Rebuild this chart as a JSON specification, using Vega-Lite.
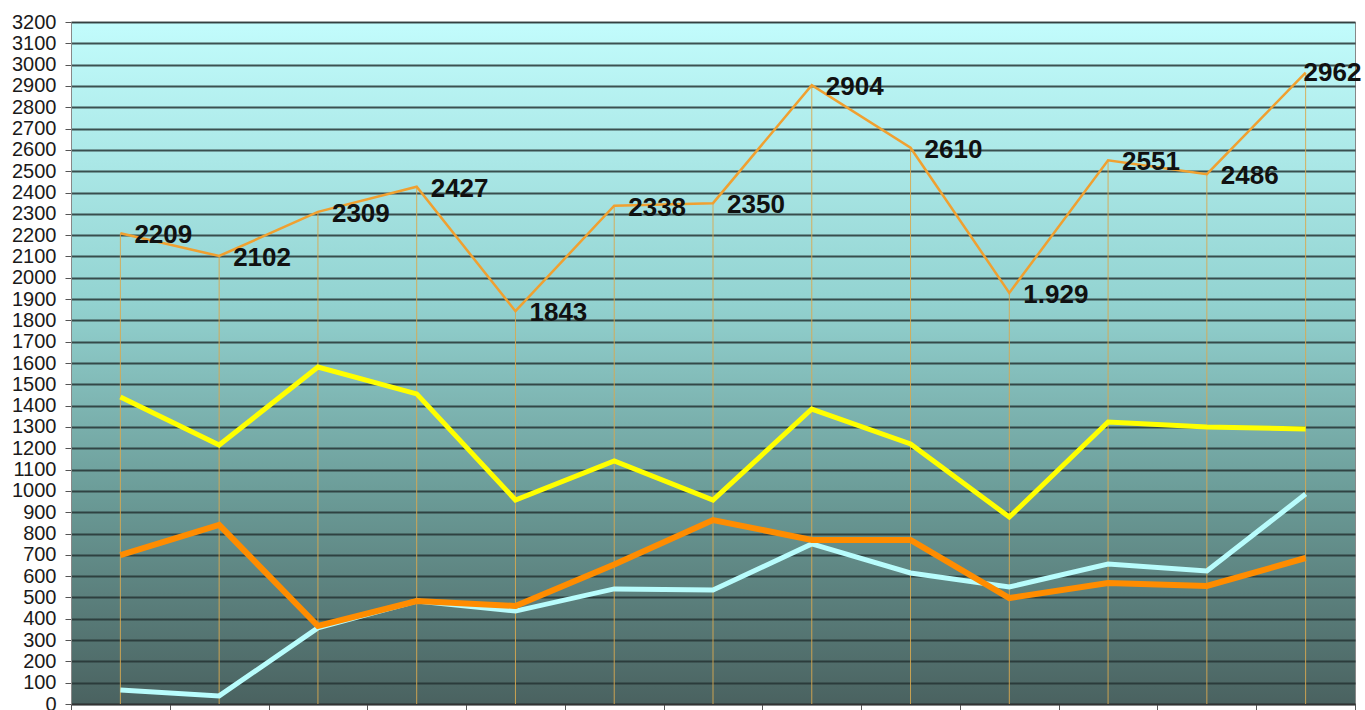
{
  "$schema": "https://vega.github.io/schema/vega-lite/v6.json",
  "width": 1284,
  "height": 682,
  "autosize": "none",
  "padding": {"left": 71, "top": 22, "right": 10, "bottom": 6},
  "background": "white",
  "config": {
    "view": {
      "stroke": "#888888",
      "strokeWidth": 1,
      "fill": {"gradient": "linear", "x1": 0, "y1": 0, "x2": 0, "y2": 1,
        "stops": [
          {"offset": 0, "color": "#c2fcfc"},
          {"offset": 0.4, "color": "#94d4d2"},
          {"offset": 0.7, "color": "#6a9a96"},
          {"offset": 1, "color": "#4a6260"}
        ]}
    },
    "axisY": {"tickCount": 40, "format": "d", "labelOverlap": false, "labelBound": false,
      "labelFontSize": 20, "labelColor": "#1a1a1a", "labelPadding": 9, "tickSize": 6, "tickColor": "#555555",
      "domainColor": "#888888", "grid": true, "gridColor": "#263434", "gridWidth": 1.8, "gridOpacity": 0.85,
      "labelFont": "Liberation Sans", "title": null},
    "font": "Liberation Sans"
  },
  "data": {
    "values": [
      {"p": 1, "total": 2209, "label": "2209", "yellow": 1440, "orange": 699, "cyan": 66},
      {"p": 2, "total": 2102, "label": "2102", "yellow": 1215, "orange": 840, "cyan": 38},
      {"p": 3, "total": 2309, "label": "2309", "yellow": 1581, "orange": 366, "cyan": 357},
      {"p": 4, "total": 2427, "label": "2427", "yellow": 1455, "orange": 483, "cyan": 483},
      {"p": 5, "total": 1843, "label": "1843", "yellow": 957, "orange": 460, "cyan": 436},
      {"p": 6, "total": 2338, "label": "2338", "yellow": 1140, "orange": 655, "cyan": 540},
      {"p": 7, "total": 2350, "label": "2350", "yellow": 957, "orange": 863, "cyan": 535},
      {"p": 8, "total": 2904, "label": "2904", "yellow": 1384, "orange": 770, "cyan": 751},
      {"p": 9, "total": 2610, "label": "2610", "yellow": 1220, "orange": 770, "cyan": 615},
      {"p": 10, "total": 1929, "label": "1.929", "yellow": 877, "orange": 497, "cyan": 549},
      {"p": 11, "total": 2551, "label": "2551", "yellow": 1323, "orange": 568, "cyan": 657},
      {"p": 12, "total": 2486, "label": "2486", "yellow": 1300, "orange": 554, "cyan": 624},
      {"p": 13, "total": 2962, "label": "2962", "yellow": 1290, "orange": 685, "cyan": 985}
    ]
  },
  "encoding": {
    "x": {
      "field": "p", "type": "ordinal", "bandPosition": 0.5,
      "scale": {"type": "band", "paddingInner": 0, "paddingOuter": 0},
      "axis": {"title": null, "labels": false, "tickBand": "extent", "ticks": true, "tickSize": 6,
        "tickColor": "#555555", "domainColor": "#333333", "domainWidth": 1.5, "grid": false}
    }
  },
  "layer": [
    {
      "mark": {"type": "rule", "color": "#d8a850", "strokeWidth": 1, "opacity": 0.9},
      "encoding": {
        "y": {"field": "total", "type": "quantitative",
          "scale": {"domain": [0, 3200], "nice": false},
          "axis": {"tickCount": 40, "values": [0,100,200,300,400,500,600,700,800,900,1000,1100,1200,1300,1400,1500,1600,1700,1800,1900,2000,2100,2200,2300,2400,2500,2600,2700,2800,2900,3000,3100,3200]}},
        "y2": {"datum": 0}
      }
    },
    {
      "mark": {"type": "line", "color": "#f0a030", "strokeWidth": 2.5},
      "encoding": {"y": {"field": "total", "type": "quantitative"}}
    },
    {
      "mark": {"type": "line", "color": "#ffff00", "strokeWidth": 5},
      "encoding": {"y": {"field": "yellow", "type": "quantitative"}}
    },
    {
      "mark": {"type": "line", "color": "#b8fcfc", "strokeWidth": 5},
      "encoding": {"y": {"field": "cyan", "type": "quantitative"}}
    },
    {
      "mark": {"type": "line", "color": "#ff8c00", "strokeWidth": 6},
      "encoding": {"y": {"field": "orange", "type": "quantitative"}}
    },
    {
      "transform": [{"filter": "datum.p < 13"}],
      "mark": {"type": "text", "align": "left", "baseline": "middle", "dx": 14, "dy": 2,
        "fontSize": 26, "fontWeight": "bold", "color": "#111111", "font": "Liberation Sans"},
      "encoding": {"y": {"field": "total", "type": "quantitative"}, "text": {"field": "label"}}
    },
    {
      "transform": [{"filter": "datum.p == 13"}],
      "mark": {"type": "text", "align": "left", "baseline": "middle", "dx": -2, "dy": 0,
        "fontSize": 26, "fontWeight": "bold", "color": "#111111", "font": "Liberation Sans"},
      "encoding": {"y": {"field": "total", "type": "quantitative"}, "text": {"field": "label"}}
    }
  ]
}
